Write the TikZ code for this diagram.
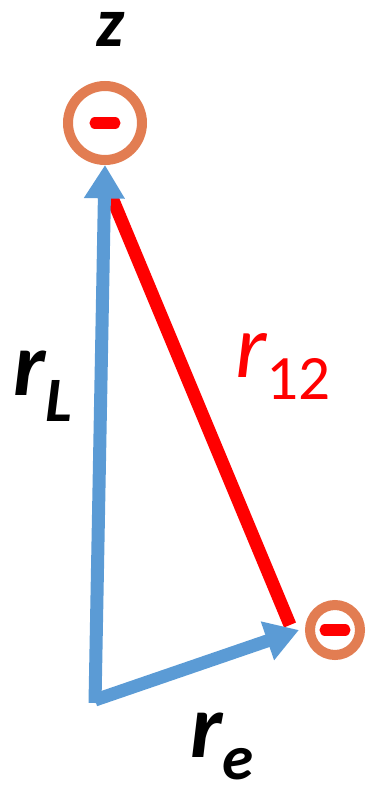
\documentclass[tikz,border=0pt]{standalone}
\usepackage{fontspec}
\setmainfont{Carlito}
\usetikzlibrary{arrows.meta}

\definecolor{vecblue}{RGB}{91,155,213}
\definecolor{ringorange}{RGB}{226,125,82}

\newcommand{\bigsize}{\fontsize{52}{52}\selectfont}
\newcommand{\subsize}{\fontsize{36}{36}\selectfont}
\newcommand{\lowered}[1]{\raisebox{-13pt}{\subsize #1}}

\begin{document}
\begin{tikzpicture}[
        x = 0.02cm, y = -0.02cm,
        >= {Triangle[width = 22pt, length = 19pt]},
        electron/.style = {circle, draw = ringorange, line width = 5.7pt, inner sep = 0pt},
        minusbar/.style = {red, line width = 6.3pt, line cap = round},
        vec/.style = {->, vecblue, line width = 7.4pt},
        dist/.style = {red, line width = 7.4pt},
        lbl/.style = {anchor = base west, inner sep = 0pt, font = \bigsize\bfseries\itshape}
    ]
    \useasboundingbox (0,0) rectangle (369,785);

    % the two electrons
    \node[electron, minimum size = 1.48cm] (e1) at (105,123) {};
    \node[electron, minimum size = 1.0cm] (e2) at (335,630) {};
    \draw[minusbar] ([xshift = -0.2cm]e1.center) -- ([xshift = 0.2cm]e1.center);
    \draw[minusbar] ([xshift = -0.2cm]e2.center) -- ([xshift = 0.2cm]e2.center);

    \coordinate (o) at (95,703);
    \coordinate (d1) at (108,188);
    \coordinate (d2) at (290,625);

    % distance and vectors
    \draw[dist] (d1) -- (d2);
    \draw[vec] (o) -- (e1.south);
    \draw[vec] ([yshift = 0.06cm]o) -- ([xshift = -0.12cm]e2.west);

    % labels
    \node[lbl, anchor = base, font = \fontsize{40}{40}\selectfont\bfseries\itshape] (zlbl) at (110,46) {z};
    \node[lbl] (rL) at (13,395) {r\raisebox{-15pt}{\subsize L}};
    \node[lbl, font = \bigsize\itshape, text = red] (r12) at (235,377) {r\lowered{\upshape 12}};
    \node[lbl] (re) at (190,757) {r\lowered{e}};
\end{tikzpicture}
\end{document}
